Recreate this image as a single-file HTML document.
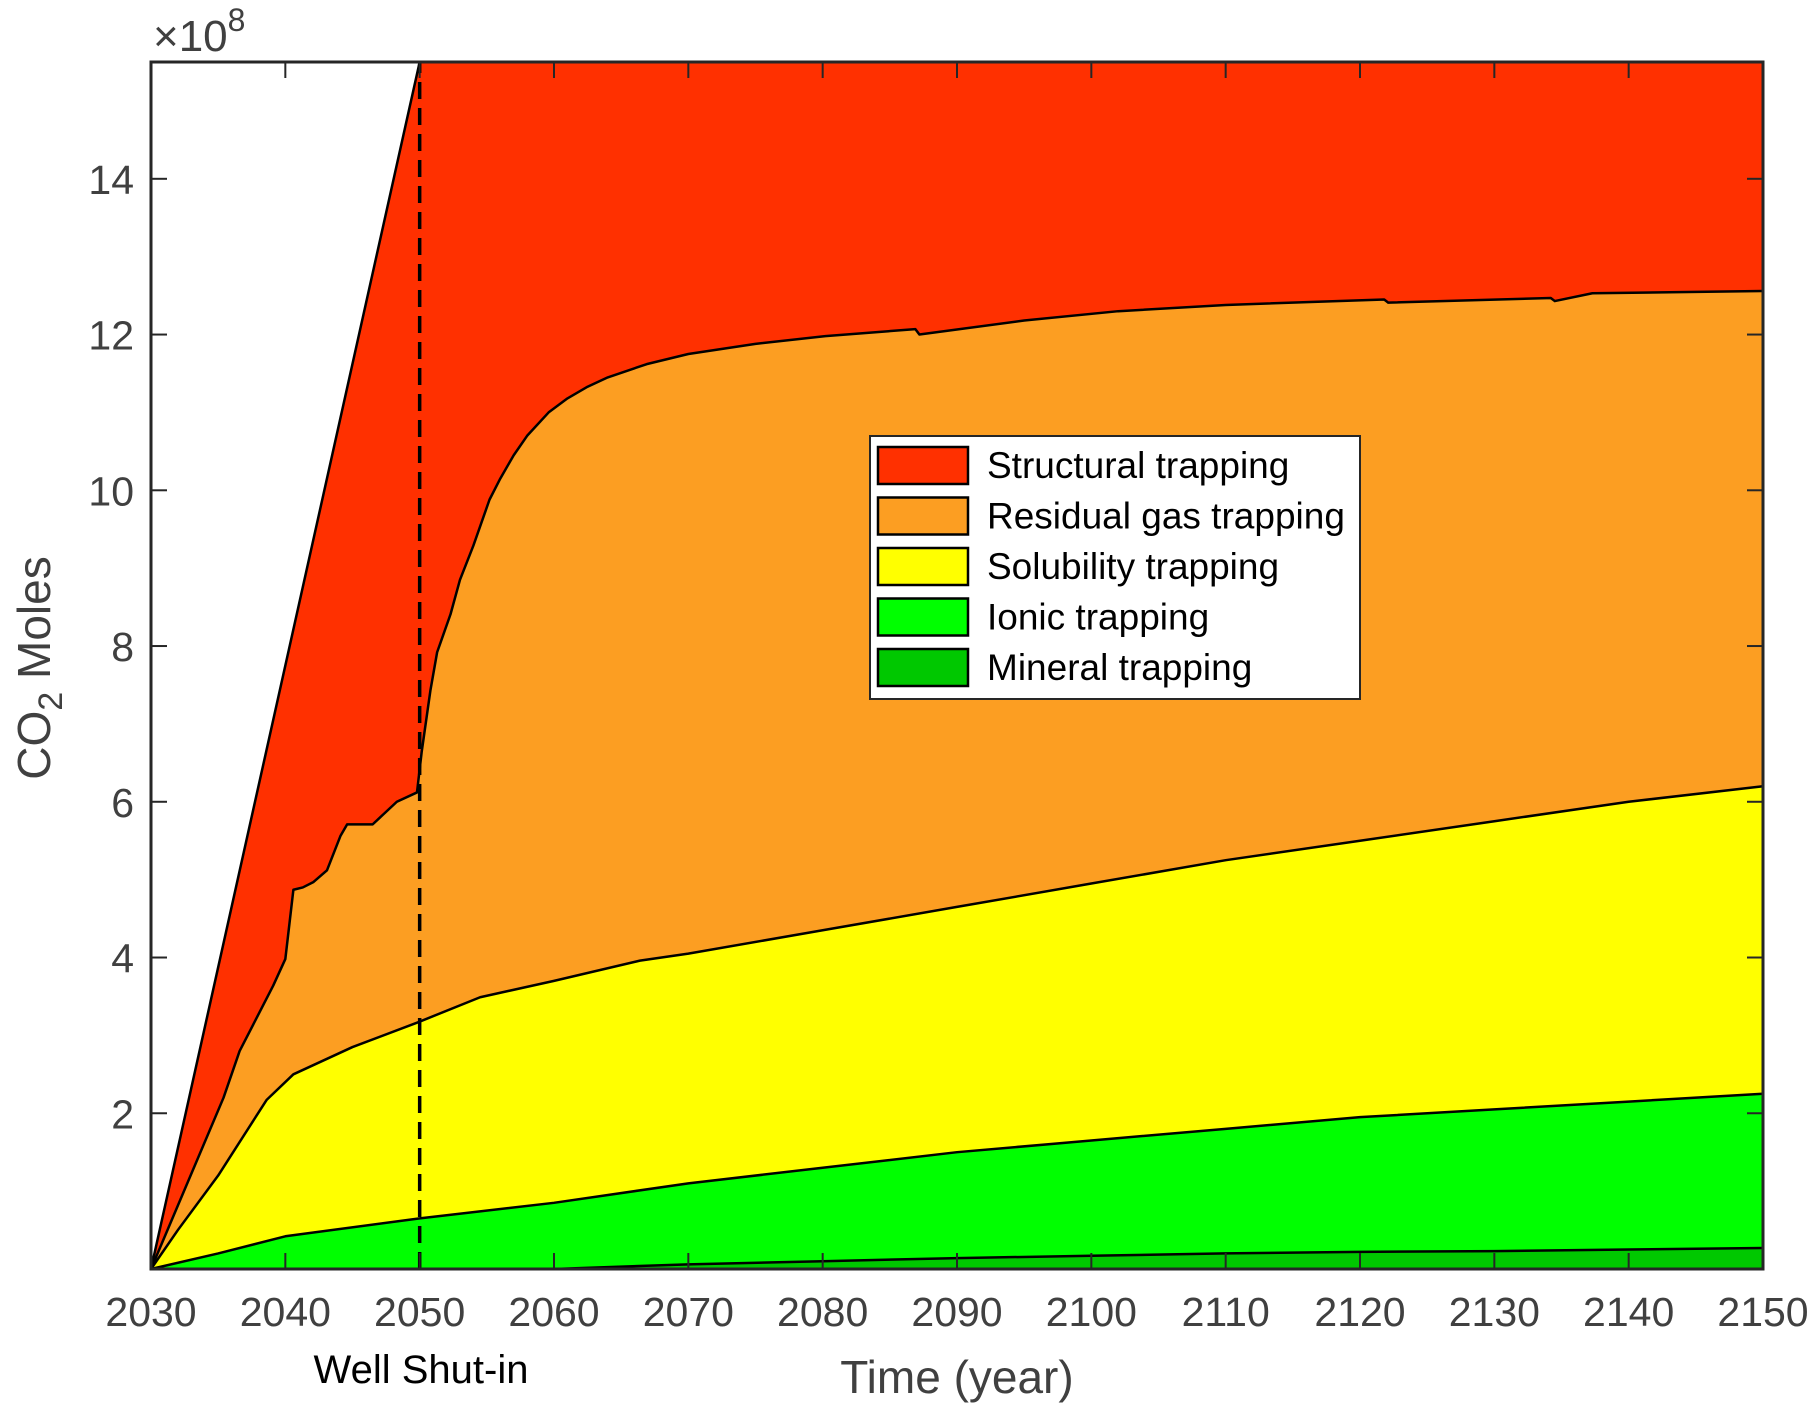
<!DOCTYPE html>
<html><head><meta charset="utf-8"><style>
html,body{margin:0;padding:0;background:#fff;}
svg{display:block;font-family:"Liberation Sans",Arial,sans-serif;}
</style></head><body>
<svg id="chart" width="1818" height="1407" viewBox="0 0 1818 1407" xmlns="http://www.w3.org/2000/svg">
<g id="areas"></g>
<g id="axes"></g>
<g id="legend"></g>
</svg>
<script>
// Cumulative boundaries (x1e8 moles)
const totalYears = [2030, 2050, 2150];
const totalVals = [0, 15.5, 15.5];
const residualYears = [2030,2035.4,2036.6,2039.1,2040,2040.6,2041.3,2042.1,2043.1,2044.1,2044.6,2046.5,2048.3,2049.8,2050.15,2050.8,2051.3,2052.3,2053,2054,2055.2,2056,2057,2058,2059.6,2061,2062.5,2064,2066.9,2070,2075,2080.2,2086.9,2087.2,2095,2102,2110,2121.8,2122.1,2134.2,2134.5,2137.3,2150];
const residualVals = [0,2.2,2.8,3.64,3.98,4.87,4.9,4.97,5.12,5.56,5.71,5.71,6.0,6.12,6.64,7.43,7.92,8.41,8.85,9.29,9.88,10.15,10.45,10.7,11.0,11.18,11.33,11.45,11.62,11.75,11.88,11.98,12.07,12.0,12.18,12.3,12.38,12.45,12.41,12.47,12.43,12.53,12.56];
const solubilityYears = [2030,2032,2035,2038.6,2040.6,2045,2049.9,2054.5,2060,2066.4,2070,2080,2090,2100,2110,2120,2130,2140,2150];
const solubilityVals = [0,0.5,1.2,2.17,2.5,2.85,3.17,3.49,3.7,3.96,4.05,4.35,4.65,4.95,5.25,5.5,5.75,6.0,6.2];
const ionicYears = [2030,2035,2040,2050,2060,2070,2080,2090,2100,2110,2120,2130,2140,2150];
const ionicVals = [0,0.2,0.42,0.65,0.85,1.1,1.3,1.5,1.65,1.8,1.95,2.05,2.15,2.25];
const mineralYears = [2030,2060,2070,2080,2090,2100,2110,2120,2130,2140,2150];
const mineralVals = [0,0,0.06,0.1,0.14,0.17,0.2,0.22,0.23,0.25,0.27];
const xTicks = [2030,2040,2050,2060,2070,2080,2090,2100,2110,2120,2130,2140,2150];
const yTicks = [2,4,6,8,10,12,14];
const legendLabels = ["Structural trapping","Residual gas trapping","Solubility trapping","Ionic trapping","Mineral trapping"];
const shutInYear = 2050;

const L=151,R=1763,T=62,B=1269,X0=2030,X1=2150,Y0=0,Y1=15.5;
const sx=v=>L+(v-X0)/(X1-X0)*(R-L);
const sy=v=>B-(v-Y0)/(Y1-Y0)*(B-T);
const NS="http://www.w3.org/2000/svg";
function mk(tag,attrs,parent){const e=document.createElementNS(NS,tag);for(const k in attrs)e.setAttribute(k,attrs[k]);parent.appendChild(e);return e;}
function linePts(xs,ys){return xs.map((x,i)=>sx(x).toFixed(2)+","+sy(ys[i]).toFixed(2));}

const areas=document.getElementById('areas');
const layers=[
 {name:'structural-area',xs:totalYears,ys:totalVals,lx:residualYears,ly:residualVals,c:'#ff3000'},
 {name:'residual-gas-area',xs:residualYears,ys:residualVals,lx:solubilityYears,ly:solubilityVals,c:'#fc9e22'},
 {name:'solubility-area',xs:solubilityYears,ys:solubilityVals,lx:ionicYears,ly:ionicVals,c:'#ffff00'},
 {name:'ionic-area',xs:ionicYears,ys:ionicVals,lx:mineralYears,ly:mineralVals,c:'#00ff00'},
 {name:'mineral-area',xs:mineralYears,ys:mineralVals,lx:[X0,X1],ly:[0,0],c:'#00c800'}
];
layers.forEach(ly=>{
  const top=linePts(ly.xs,ly.ys);
  const bx=ly.lx.slice().reverse(), byv=ly.ly.slice().reverse();
  const bot=linePts(bx,byv);
  const p=mk('polygon',{points:top.concat(bot).join(' '),fill:ly.c,stroke:'none'},areas);
  
  
});
layers.forEach(ly=>{
  const pl=mk('polyline',{points:linePts(ly.xs,ly.ys).join(' '),fill:'none',stroke:'#000','stroke-width':2.5,'stroke-linejoin':'round'},areas);
  
  
});
const dl=mk('line',{x1:sx(shutInYear),x2:sx(shutInYear),y1:B,y2:T,stroke:'#000','stroke-width':3.5,'stroke-dasharray':'17,9'},areas);



const axes=document.getElementById('axes');
xTicks.forEach(v=>{
  const t=mk('line',{x1:sx(v),x2:sx(v),y1:B,y2:B-16,stroke:'#262626','stroke-width':2},axes);
  
  
  const t2=mk('line',{x1:sx(v),x2:sx(v),y1:T,y2:T+16,stroke:'#262626','stroke-width':2},axes);
  
  
  const tx=mk('text',{x:sx(v),y:1326,'text-anchor':'middle','font-size':41,fill:'#404040'},axes);
  
  
  tx.textContent=v;
});
yTicks.forEach(v=>{
  const t=mk('line',{x1:L,x2:L+16,y1:sy(v),y2:sy(v),stroke:'#262626','stroke-width':2},axes);
  
  
  const t2=mk('line',{x1:R,x2:R-16,y1:sy(v),y2:sy(v),stroke:'#262626','stroke-width':2},axes);
  
  
  const tx=mk('text',{x:134,y:sy(v)+15,'text-anchor':'end','font-size':41,fill:'#404040'},axes);
  
  
  tx.textContent=v;
});
const frame=mk('rect',{x:L,y:T,width:R-L,height:B-T,fill:'none',stroke:'#262626','stroke-width':3},axes);


</script>
<script>
(function(){
const NS="http://www.w3.org/2000/svg";
const svg=document.getElementById('chart');
function mk(tag,attrs,parent){const e=document.createElementNS(NS,tag);for(const k in attrs)e.setAttribute(k,attrs[k]);parent.appendChild(e);return e;}
const g=svg.querySelector('#axes');
const ex=mk('text',{x:153,y:51,'font-size':44,fill:'#404040'},g);


const ex1=mk('tspan',{},ex); ex1.textContent='×10';
const ex2=mk('tspan',{dy:-20,'font-size':32},ex); ex2.textContent='8';
const xt=mk('text',{x:957,y:1393,'text-anchor':'middle','font-size':46,fill:'#404040'},g);


xt.textContent='Time (year)';
const ws=mk('text',{x:421,y:1383,'text-anchor':'middle','font-size':40,fill:'#000'},g);


ws.textContent='Well Shut-in';
const yt=mk('text',{x:0,y:0,'text-anchor':'middle','font-size':46,fill:'#404040',transform:'translate(50,668) rotate(-90)'},g);


const y1=mk('tspan',{},yt); y1.textContent='CO';
const y2=mk('tspan',{dy:12,'font-size':34},yt); y2.textContent='2';
const y3=mk('tspan',{dy:-12},yt); y3.textContent=' Moles';
const lg=svg.querySelector('#legend');
const box=mk('rect',{x:870,y:436,width:490,height:263,fill:'#fff',stroke:'#262626','stroke-width':2},lg);


const cols=['#ff3000','#fc9e22','#ffff00','#00ff00','#00c800'];
legendLabels.forEach((lab,i)=>{
  const y=447+i*50.5;
  const sw=mk('rect',{x:878,y:y,width:90,height:37,fill:cols[i],stroke:'#000','stroke-width':2.5},lg);
  
  
  const t=mk('text',{x:987,y:y+31,'font-size':37,fill:'#000'},lg);
  
  
  t.textContent=lab;
});
})();
</script>
</body></html>
